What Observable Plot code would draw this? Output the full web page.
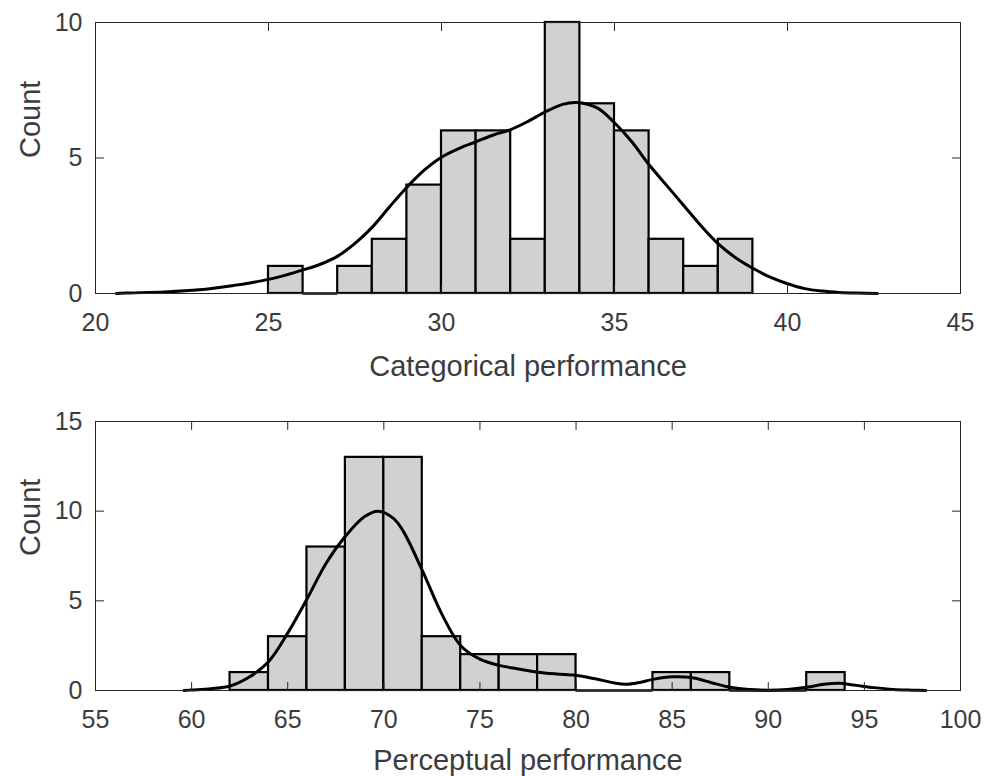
<!DOCTYPE html>
<html>
<head>
<meta charset="utf-8">
<script src="https://cdn.jsdelivr.net/npm/d3@7"></script>
<script src="https://cdn.jsdelivr.net/npm/@observablehq/plot@0.6"></script>
<style>
  html, body { margin: 0; padding: 0; background: #fff; }
  #chart svg { display: block; }
</style>
</head>
<body>
<div id="chart"></div>
<script>
// ---- Data ----
const catEdges = [25, 26, 27, 28, 29, 30, 31, 32, 33, 34, 35, 36, 37, 38, 39];
const catCounts = [1, 0, 1, 2, 4, 6, 6, 2, 10, 7, 6, 2, 1, 2];
const catCurveX = [20.6, 21, 22, 23, 24, 24.5, 25, 25.5, 26, 26.5, 27, 27.5, 28, 28.5, 29, 29.5, 30, 30.5, 31, 31.5, 32, 32.5, 33, 33.5, 33.9, 34.5, 35, 35.5, 36, 36.5, 37, 37.5, 38, 38.5, 39, 39.5, 40, 40.5, 41, 41.5, 42, 42.6];
const catCurveY = [0, 0.02, 0.06, 0.14, 0.3, 0.4, 0.52, 0.68, 0.87, 1.08, 1.38, 1.85, 2.45, 3.2, 3.92, 4.55, 5.03, 5.35, 5.6, 5.85, 6.05, 6.35, 6.7, 6.98, 7.05, 6.85, 6.3, 5.6, 4.75, 4.0, 3.25, 2.5, 1.83, 1.32, 0.93, 0.6, 0.36, 0.18, 0.09, 0.04, 0.015, 0];
const catXTicks = [20, 25, 30, 35, 40, 45];
const catYTicks = [0, 5, 10];

const percEdges = [62, 64, 66, 68, 70, 72, 74, 76, 78, 80, 82, 84, 86, 88, 90, 92, 94];
const percCounts = [1, 3, 8, 13, 13, 3, 2, 2, 2, 0, 0, 1, 1, 0, 0, 1];
const percCurveX = [59.6, 60, 61, 62, 63, 64, 65, 66, 67, 68, 69, 69.7, 70.5, 71, 72, 73, 74, 75, 76, 77, 78, 79, 80, 81, 82, 82.6, 83.3, 84, 85, 86, 87, 88, 89, 90, 91, 92, 93, 93.7, 94.5, 95.5, 96.5, 97.5, 98.2];
const percCurveY = [0, 0.03, 0.1, 0.25, 0.75, 1.6, 3.2, 5.1, 7.1, 8.6, 9.7, 10.0, 9.6, 8.9, 6.7, 4.3, 2.5, 1.75, 1.4, 1.2, 1.02, 0.92, 0.85, 0.65, 0.42, 0.35, 0.45, 0.62, 0.76, 0.72, 0.45, 0.18, 0.05, 0.02, 0.06, 0.18, 0.36, 0.4, 0.3, 0.16, 0.06, 0.02, 0];
const percXTicks = [55, 60, 65, 70, 75, 80, 85, 90, 95, 100];
const percYTicks = [0, 5, 10, 15];

// ---- Style ----
const axisColor = "#262626";
const textColor = "#3c3c3c";
const fontFamily = "'Liberation Sans', Arial, Helvetica, sans-serif";
const tickShape = {draw(ctx, l) { ctx.moveTo(0, 0); ctx.lineTo(0, -l); }};
const tickLen = 8;

function panel({edges, counts, curveX, curveY, xDomain, yDomain, xTicks, yTicks, xLabel, height, marginTop, marginBottom, labelDy}) {
  const bins = counts.map((c, i) => ({x1: edges[i], x2: edges[i + 1], count: c}));
  const curve = curveX.map((x, i) => ({x, y: curveY[i]}));
  return Plot.plot({
    width: 984,
    height,
    marginLeft: 95,
    marginRight: 24,
    marginTop,
    marginBottom,
    style: {fontFamily, color: textColor, background: "#fff", overflow: "visible"},
    x: {domain: xDomain},
    y: {domain: yDomain},
    marks: [
      Plot.rectY(bins.filter(d => d.count > 0), {x1: "x1", x2: "x2", y1: 0, y2: "count", fill: "#d1d1d1", stroke: "#000", strokeWidth: 2.2}),
      Plot.ruleY(bins.filter(d => d.count === 0), {x1: "x1", x2: "x2", y: 0, stroke: "#000", strokeWidth: 2.5}),
      Plot.line(curve, {x: "x", y: "y", stroke: "#000", strokeWidth: 3, curve: "catmull-rom"}),
      Plot.frame({stroke: axisColor, strokeWidth: 1}),
      Plot.vector(xTicks, {x: d => d, y: () => yDomain[0], length: tickLen, rotate: 0, anchor: "start", shape: tickShape, stroke: axisColor, strokeWidth: 1}),
      Plot.vector(xTicks, {x: d => d, y: () => yDomain[1], length: tickLen, rotate: 180, anchor: "start", shape: tickShape, stroke: axisColor, strokeWidth: 1}),
      Plot.vector(yTicks, {y: d => d, x: () => xDomain[0], length: tickLen, rotate: 90, anchor: "start", shape: tickShape, stroke: axisColor, strokeWidth: 1}),
      Plot.vector(yTicks, {y: d => d, x: () => xDomain[1], length: tickLen, rotate: -90, anchor: "start", shape: tickShape, stroke: axisColor, strokeWidth: 1}),
      Plot.axisX({ticks: xTicks, tickSize: 0, tickPadding: 20, fontSize: 25, label: null, tickFormat: d => String(d), fill: textColor}),
      Plot.axisY({ticks: yTicks, tickSize: 0, tickPadding: 13, fontSize: 25, label: null, tickFormat: d => String(d), fill: textColor}),
      Plot.text([xLabel], {text: d => d, frameAnchor: "bottom", dy: labelDy, fontSize: 29, lineAnchor: "middle", fill: textColor}),
      Plot.text(["Count"], {text: d => d, frameAnchor: "left", dx: -65, rotate: -90, fontSize: 29, lineAnchor: "middle", fill: textColor})
    ]
  });
}

const topPanel = panel({
  edges: catEdges, counts: catCounts, curveX: catCurveX, curveY: catCurveY,
  xDomain: [20, 45], yDomain: [0, 10], xTicks: catXTicks, yTicks: catYTicks,
  xLabel: "Categorical performance", height: 388, marginTop: 22, marginBottom: 95, labelDy: 73
});
const bottomPanel = panel({
  edges: percEdges, counts: percCounts, curveX: percCurveX, curveY: percCurveY,
  xDomain: [55, 100], yDomain: [0, 15], xTicks: percXTicks, yTicks: percYTicks,
  xLabel: "Perceptual performance", height: 388, marginTop: 33, marginBottom: 86, labelDy: 70
});
document.getElementById("chart").append(topPanel, bottomPanel);
</script>
</body>
</html>
